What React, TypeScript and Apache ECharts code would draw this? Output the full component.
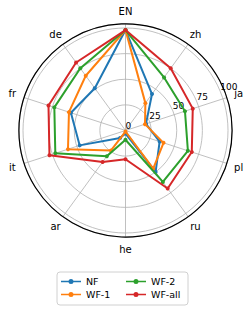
import React, { useEffect, useRef } from "react";
import * as echarts from "echarts";

const categories = ["EN", "zh", "ja", "pl", "ru", "he", "ar", "it", "fr", "de"];
const seriesNames = ["NF", "WF-1", "WF-2", "WF-all"];
const nf = [98, 44, 21, 35, 50, 3, 9, 47, 56, 51];
const wf1 = [98, 33, 20, 39, 46, 1, 24, 59, 58, 66];
const wf2 = [98, 64, 61, 64, 62, 9, 31, 72, 73, 75];
const wfAll = [98, 75, 69, 68, 70, 28, 38, 78, 79, 82];
const radialTicks = [0, 25, 50, 75, 100];
const colors = ["#1f77b4", "#ff7f0e", "#2ca02c", "#d62728"];

const FONT = "DejaVu Sans";
const CX = 125.5;
const CY = 130.5;
const SCALE = 1.025; // px per unit
const RMAX = 104;

// radar goes counter-clockwise; reorder clockwise arrays
const ccw = <T,>(a: T[]): T[] => [a[0], ...a.slice(1).reverse()];

const LEGEND_ICON =
  "path://M0,1.7H20V3.3H0Z M7.5,2.5A2.5,2.5 0 1 1 12.5,2.5A2.5,2.5 0 1 1 7.5,2.5Z";

export default function App() {
  const ref = useRef<HTMLDivElement>(null);
  useEffect(() => {
    if (!ref.current) return;
    const chart = echarts.init(ref.current, undefined, { renderer: "svg" });
    const allData = [nf, wf1, wf2, wfAll];
    const option: any = {
      animation: false,
      backgroundColor: "#fff",
      radar: {
        center: [CX, CY],
        radius: 100 * SCALE,
        startAngle: 90,
        shape: "circle",
        splitNumber: 4,
        indicator: ccw(categories).map((c) => ({ name: c, min: 0, max: 100 })),
        axisLine: { show: false },
        splitLine: { show: false },
        splitArea: { show: false },
        axisTick: { show: false },
        axisLabel: { show: false },
        nameGap: 16.5,
        axisName: {
          color: "#000",
          fontSize: 10,
          fontFamily: FONT,
          align: "center",
          verticalAlign: "middle",
        },
      },
      polar: [
        { center: [CX, CY], radius: RMAX * SCALE },
        { center: [CX, CY], radius: RMAX * SCALE },
      ],
      angleAxis: [
        {
          polarIndex: 0,
          type: "value",
          min: 0,
          max: 360,
          interval: 36,
          startAngle: 90,
          clockwise: true,
          axisLine: { show: true, lineStyle: { color: "#000", width: 1.2 } },
          axisTick: { show: false },
          axisLabel: { show: false },
          splitLine: { show: true, lineStyle: { color: "#b0b0b0", width: 0.8 } },
          z: 0,
        },
        {
          polarIndex: 1,
          type: "value",
          min: 0,
          max: 360,
          startAngle: 22.5,
          show: false,
        },
      ],
      radiusAxis: [
        {
          polarIndex: 0,
          type: "value",
          min: 0,
          max: RMAX,
          interval: 25,
          axisLine: { show: false },
          axisTick: { show: false },
          axisLabel: { show: false },
          splitLine: { show: true, lineStyle: { color: "#b0b0b0", width: 0.8 } },
          z: 0,
        },
        {
          polarIndex: 1,
          type: "value",
          min: 0,
          max: RMAX,
          interval: 25,
          axisLine: { show: false },
          axisTick: { show: false },
          splitLine: { show: false },
          axisLabel: {
            show: true,
            margin: 0,
            align: "left",
            verticalAlign: "bottom",
            color: "#000",
            fontSize: 9,
            fontFamily: FONT,
            showMaxLabel: false,
            formatter: (v: number) => (radialTicks.includes(v) ? String(v) : ""),
          },
          z: 5,
        },
      ],
      legend: {
        orient: "vertical",
        left: 57,
        top: 272,
        height: 26,
        padding: [4, 5, 5, 4],
        itemGap: 2,
        itemWidth: 20,
        itemHeight: 5,
        icon: LEGEND_ICON,
        borderColor: "#d0d0d0",
        borderWidth: 1,
        borderRadius: 3,
        textStyle: { fontSize: 9.5, fontFamily: FONT, color: "#000", lineHeight: 11 },
        data: seriesNames.map((n, i) => ({
          name: n,
          textStyle: { width: i < 2 ? 38 : 32 },
        })),
      },
      series: seriesNames.map((name, i) => ({
        type: "radar",
        name,
        symbol: "circle",
        symbolSize: 4,
        z: 10 + i,
        itemStyle: { color: colors[i] },
        lineStyle: { color: colors[i], width: 2 },
        data: [{ name, value: ccw(allData[i]) }],
      })),
    };
    chart.setOption(option);
    return () => chart.dispose();
  }, []);
  return (
    <div
      ref={ref}
      style={{ position: "absolute", left: 0, top: 0, width: 250, height: 311 }}
    />
  );
}
